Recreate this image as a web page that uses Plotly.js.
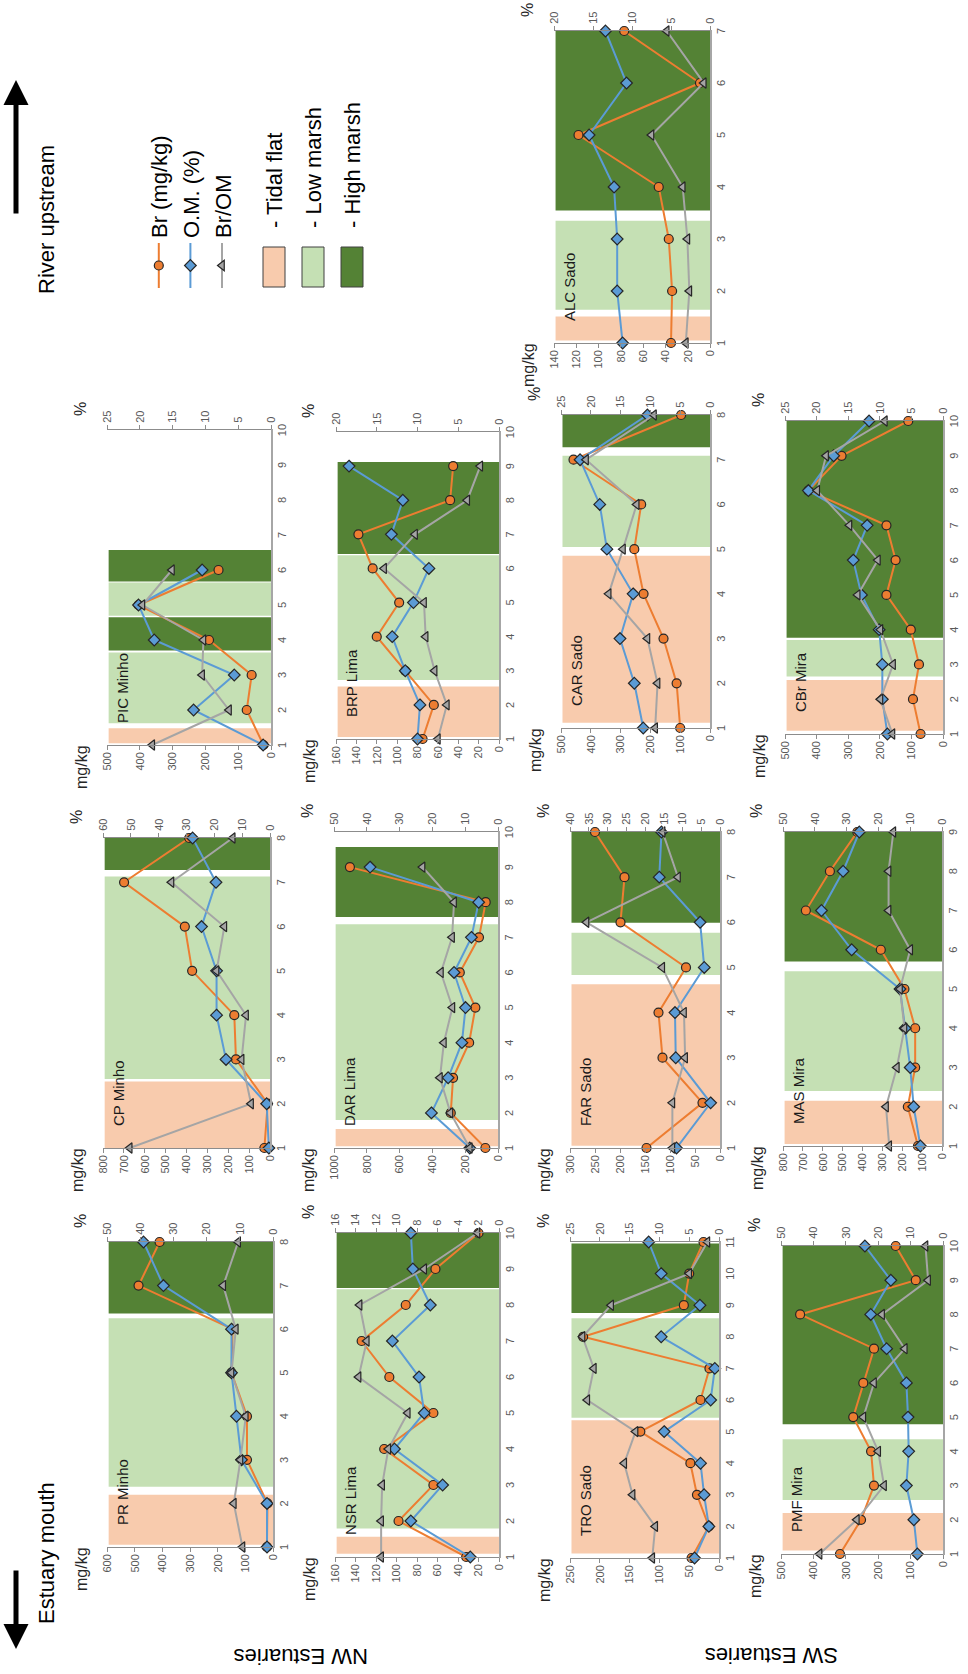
<!DOCTYPE html>
<html><head><meta charset="utf-8">
<script src="https://cdn.plot.ly/plotly-3.0.1.min.js"></script>
<style>
html,body{margin:0;padding:0;width:968px;height:1674px;overflow:hidden;background:#fff}
#wrap{position:absolute;left:0;top:0;width:1674px;height:968px;transform-origin:0 0;transform:translate(0px,1674px) rotate(-90deg);}
#chart{width:1674px;height:968px}
</style></head><body><div id="wrap"><div id="chart"></div></div>
<script>
// ---------- data ----------
const PR_Br   = [22, 20, 94, 94, 150, 146, 486, 410];
const PR_OM   = [1.8, 1.8, 9.5, 11, 12.5, 12.5, 33, 39];
const PR_BrOM = [9.2, 11.8, 9.8, 8.2, 12.5, 11.2, 15, 10.5];
const PR_zones = [['T',1.05,2.2],['L',2.38,6.25],['H',6.36,8]];

const CP_Br   = [27, 11, 163, 171, 373, 408, 699, 387];
const CP_OM   = [0.4, 1.2, 15.8, 19.2, 19.2, 24.6, 19.4, 27.8];
const CP_BrOM = [50.4, 6.8, 10.2, 8.6, 19.2, 16.4, 35.4, 13.4];
const CP_zones = [['T',1,2.5],['L',2.56,7.13],['H',7.28,8]];

const PIC_Br   = [23, 74, 59, 189, 404, 160];
const PIC_OM   = [1.2, 11.8, 5.6, 17.8, 20.2, 10.5];
const PIC_BrOM = [18.1, 6.4, 10.5, 10.3, 19.6, 15.1];
const PIC_zones = [['T',1.05,1.48],['L',1.62,3.64],['H',3.7,4.65],['L',4.69,5.64],['H',5.67,6.57]];

const NSR_Br   = [32, 98, 64, 112, 64, 107, 134, 91, 62, 20];
const NSR_OM   = [2.8, 8.6, 5.5, 10.2, 7.3, 7.8, 10.4, 6.7, 8.4, 8.6];
const NSR_BrOM = [11.5, 11.5, 11.4, 10.8, 8.9, 13.7, 12.9, 13.6, 7.3, 2.1];
const NSR_zones = [['T',1.09,1.56],['L',1.79,8.44],['H',8.47,10]];

const DAR_Br   = [77, 288, 274, 176, 138, 233, 116, 75, 903];
const DAR_OM   = [8.6, 20.3, 15.2, 11.0, 9.9, 13.4, 8.1, 5.9, 39.0];
const DAR_BrOM = [8.6, 14.5, 17.7, 16.5, 13.9, 17.4, 14.0, 13.4, 23.0];
const DAR_zones = [['T',1.05,1.54],['L',1.8,7.37],['H',7.58,9.57]];

const BRP_Br   = [75, 64, 92, 120, 98, 124, 138, 48, 45];
const BRP_OM   = [10.0, 9.7, 11.5, 13.1, 10.5, 8.6, 13.2, 11.8, 18.4];
const BRP_BrOM = [7.5, 6.4, 7.9, 9.0, 9.2, 14.1, 10.3, 3.9, 2.3];
const BRP_zones = [['T',1.06,2.54],['L',2.73,6.39],['H',6.42,9.12]];

const TRO_Br   = [46, 17, 37, 48, 132, 31, 16, 228, 59, 50, 26];
const TRO_OM   = [4.1, 1.7, 2.5, 3.1, 9.2, 1.4, 0.7, 9.7, 3.2, 9.7, 11.8];
const TRO_BrOM = [11.2, 10.7, 14.5, 15.9, 14.0, 22.1, 21.0, 22.9, 18.1, 5.0, 1.95];
const TRO_zones = [['T',1.14,5.36],['L',5.44,8.59],['H',8.75,10.95]];

const FAR_Br   = [147, 35, 115, 123, 68, 199, 191, 250];
const FAR_OM   = [11.6, 2.5, 11.8, 12.0, 4.2, 5.3, 16.2, 15.6];
const FAR_BrOM = [12.7, 12.7, 9.3, 9.6, 15.4, 35.6, 11.2, 15.3];
const FAR_zones = [['T',1.05,4.63],['L',4.83,5.77],['H',5.99,8]];

const CAR_Br   = [100, 112, 156, 223, 254, 231, 458, 97];
const CAR_OM   = [11.2, 12.7, 15.1, 12.9, 17.3, 18.5, 21.8, 10.5];
const CAR_BrOM = [9.2, 8.8, 10.5, 17.0, 14.6, 12.3, 20.8, 9.4];
const CAR_zones = [['T',1.12,4.85],['L',5.05,7.09],['H',7.28,8]];

const ALC_Br   = [35, 34, 37, 46, 118, 9, 77];
const ALC_OM   = [11.2, 11.9, 11.9, 12.3, 15.5, 10.7, 13.4];
const ALC_BrOM = [3.1, 2.65, 2.9, 3.5, 7.5, 0.8, 5.55];
const ALC_zones = [['T',1.05,1.51],['L',1.64,3.35],['H',3.55,7]];

const PMF_Br   = [318, 253, 213, 222, 277, 246, 213, 441, 84, 146];
const PMF_OM   = [7.9, 9.0, 11.3, 10.6, 10.8, 11.3, 17.4, 22.3, 16.1, 24.1];
const PMF_BrOM = [38.1, 26.6, 18.2, 20.0, 24.6, 21.3, 11.8, 18.8, 4.6, 5.4];
const PMF_zones = [['T',1.1,2.2],['L',2.58,4.35],['H',4.79,10]];

const MAS_Br   = [121, 172, 135, 135, 189, 308, 685, 564, 426];
const MAS_OM   = [6.8, 8.9, 10.0, 11.6, 13.2, 28.4, 37.9, 31.1, 26.0];
const MAS_BrOM = [16.6, 17.6, 14.2, 11.8, 13.2, 10.0, 16.8, 16.8, 15.3];
const MAS_zones = [['T',1.05,2.15],['L',2.4,5.45],['H',5.7,9]];

const CBr_Br   = [71, 95, 76, 102, 179, 150, 179, 426, 321, 110];
const CBr_OM   = [8.8, 9.6, 9.6, 10.1, 12.9, 14.2, 12.0, 21.3, 17.3, 11.7];
const CBr_BrOM = [8.0, 9.9, 7.9, 9.9, 13.5, 10.3, 14.8, 19.9, 18.5, 9.2];
const CBr_zones = [['T',1.09,2.55],['L',2.65,3.7],['H',3.77,10]];

const siteNames = ['PR Minho','CP Minho','PIC Minho','NSR Lima','DAR Lima','BRP Lima',
  'TRO Sado','FAR Sado','CAR Sado','ALC Sado','PMF Mira','MAS Mira','CBr Mira'];
const nPoints   = [8, 8, 10, 10, 10, 10, 11, 8, 8, 7, 10, 9, 10];
const brMax     = [600, 800, 500, 160, 1000, 160, 250, 300, 500, 140, 500, 800, 500];
const brStep    = [100, 100, 100, 20, 200, 20, 50, 50, 100, 20, 100, 100, 100];
const pctMax    = [50, 60, 25, 16, 50, 20, 25, 40, 25, 20, 50, 50, 25];
const pctStep   = [10, 10, 5, 2, 10, 5, 5, 5, 5, 5, 10, 10, 5];
const seriesNames = ['Br (mg/kg)', 'O.M. (%)', 'Br/OM'];
const zoneNames = ['- Tidal flat', '- Low marsh', '- High marsh'];

const brData   = [PR_Br, CP_Br, PIC_Br, NSR_Br, DAR_Br, BRP_Br, TRO_Br, FAR_Br, CAR_Br, ALC_Br, PMF_Br, MAS_Br, CBr_Br];
const omData   = [PR_OM, CP_OM, PIC_OM, NSR_OM, DAR_OM, BRP_OM, TRO_OM, FAR_OM, CAR_OM, ALC_OM, PMF_OM, MAS_OM, CBr_OM];
const ratioData= [PR_BrOM, CP_BrOM, PIC_BrOM, NSR_BrOM, DAR_BrOM, BRP_BrOM, TRO_BrOM, FAR_BrOM, CAR_BrOM, ALC_BrOM, PMF_BrOM, MAS_BrOM, CBr_BrOM];
const zoneData = [PR_zones, CP_zones, PIC_zones, NSR_zones, DAR_zones, BRP_zones, TRO_zones, FAR_zones, CAR_zones, ALC_zones, PMF_zones, MAS_zones, CBr_zones];

// ---------- layout geometry (unrotated frame, px) ----------
const W = 1674, H = 968;
const boxes = [
  [127,432,107,273],[526,836,103,270],[929,1244,107,271],
  [117,441,335,499],[526,842,334,498],[935,1242,336,499],
  [116,432,570,719],[526,842,570,720],[946,1259,561,710],[1331,1643,554,710],
  [120,428,781,943],[528,842,783,942],[940,1253,785,943]
];

const FONT = 'Liberation Sans, Arial, sans-serif';
const zoneColor = {T:'#F8CBAD', L:'#C5E0B4', H:'#548235'};
const sty = [
  {line:'#ED7D31', sym:'circle', size:9},
  {line:'#5B9BD5', sym:'diamond', size:9},
  {line:'#A5A5A5', sym:'triangle-up', size:9}
];
const tickFont = {family:FONT, size:11, color:'#595959'};
const axCol = '#8C8C8C';

function sfx(n){ return n === 1 ? '' : String(n); }

const traces = [], shapes = [], annotations = [];
const layout = {
  width: W, height: H, margin:{l:0,r:0,t:0,b:0}, paper_bgcolor:'#fff', plot_bgcolor:'rgba(0,0,0,0)',
  font:{family:FONT, color:'#000'}, showlegend:true,
  legend:{x:1381/W, y:1-138/H, xanchor:'left', yanchor:'top', font:{family:FONT,size:22,color:'#000'},
          bgcolor:'rgba(0,0,0,0)', borderwidth:0, itemwidth:45, tracegroupgap:0}
};

siteNames.forEach((name, i) => {
  const xn = i+1, yl = 2*i+1, yr = 2*i+2;
  const xid = 'x'+sfx(xn), ylid = 'y'+sfx(yl), yrid = 'y'+sfx(yr);
  const [u0,u1,v0,v1] = boxes[i];
  const n = nPoints[i];
  const cats = Array.from({length:n}, (_,k)=>k+1);
  layout['xaxis'+sfx(xn)] = {domain:[u0/W, u1/W], anchor:ylid, range:[1,n], tickvals:cats,
    showline:true, linecolor:'#A6A6A6', linewidth:1.6, ticks:'', showgrid:false, zeroline:false,
    tickfont:tickFont, fixedrange:true};
  layout['yaxis'+sfx(yl)] = {domain:[1-v1/H, 1-v0/H], anchor:xid, range:[0,brMax[i]], dtick:brStep[i],
    showline:true, linecolor:axCol, linewidth:1, ticks:'outside', ticklen:4, tickcolor:axCol,
    showgrid:false, zeroline:false, tickfont:tickFont, fixedrange:true};
  layout['yaxis'+sfx(yr)] = {overlaying:ylid, side:'right', anchor:xid, range:[0,pctMax[i]], dtick:pctStep[i],
    showline:true, linecolor:axCol, linewidth:1, ticks:'outside', ticklen:4, tickcolor:axCol,
    showgrid:false, zeroline:false, tickfont:tickFont, fixedrange:true};

  const sets = [[brData[i], ylid], [omData[i], yrid], [ratioData[i], yrid]];
  sets.forEach(([vals, yid], s) => {
    traces.push({
      type:'scatter', mode:'lines+markers', x:cats.slice(0, vals.length), y:vals,
      xaxis:xid, yaxis:yid, name:seriesNames[s], legendgroup:'s'+s, showlegend:i===0,
      cliponaxis:false,
      line:{color:sty[s].line, width:2},
      marker:{symbol:sty[s].sym, size:sty[s].size, color:sty[s].line, line:{color:'#262626', width:1.2}}
    });
  });

  zoneData[i].forEach(z => {
    shapes.push({type:'rect', xref:xid, yref:ylid+' domain', x0:z[1], x1:z[2], y0:0, y1:0.99,
      fillcolor:zoneColor[z[0]], line:{width:0}, layer:'below'});
  });

  annotations.push({xref:xid+' domain', yref:ylid+' domain', x:0, y:1, xanchor:'left', yanchor:'top',
    xshift:20, yshift:-5, text:name, showarrow:false, font:{family:FONT, size:15, color:'#1a1a1a'}});
  annotations.push({xref:xid+' domain', yref:ylid+' domain', x:0, y:1, xanchor:'right', yanchor:'middle',
    xshift:2, yshift:26, text:'mg/kg', showarrow:false, font:{family:FONT, size:16, color:'#262626'}});
  annotations.push({xref:xid+' domain', yref:ylid+' domain', x:1, y:1, xanchor:'left', yanchor:'middle',
    xshift:12, yshift:27, text:'%', showarrow:false, font:{family:FONT, size:16, color:'#262626'}});
});

// row labels
annotations.push({xref:'paper', yref:'paper', x:18/W, y:1-301/H, xanchor:'center', yanchor:'middle',
  text:'NW Estuaries', textangle:-90, showarrow:false, font:{family:FONT, size:22, color:'#000'}});
annotations.push({xref:'paper', yref:'paper', x:18/W, y:1-772/H, xanchor:'center', yanchor:'middle',
  text:'SW Estuaries', textangle:-90, showarrow:false, font:{family:FONT, size:22, color:'#000'}});
// direction labels and arrows
annotations.push({xref:'paper', yref:'paper', x:121/W, y:1-46/H, xanchor:'center', yanchor:'middle',
  text:'Estuary mouth', showarrow:false, font:{family:FONT, size:22, color:'#000'}});
annotations.push({xref:'paper', yref:'paper', x:1454/W, y:1-46/H, xanchor:'center', yanchor:'middle',
  text:'River upstream', showarrow:false, font:{family:FONT, size:22, color:'#000'}});
annotations.push({xref:'paper', yref:'paper', x:25/W, y:1-16/H, ax:80, ay:0, text:'', showarrow:true,
  arrowhead:2, arrowsize:1, arrowwidth:5, arrowcolor:'#000'});
annotations.push({xref:'paper', yref:'paper', x:1594/W, y:1-16/H, ax:-135, ay:0, text:'', showarrow:true,
  arrowhead:2, arrowsize:1, arrowwidth:5, arrowcolor:'#000'});

// zone legend
const zKeys = ['T','L','H'];
const zoneV = [274, 313, 352];
zKeys.forEach((k, j) => {
  shapes.push({type:'rect', xref:'paper', yref:'paper', x0:1387/W, x1:1427/W,
    y0:1-(zoneV[j]+11)/H, y1:1-(zoneV[j]-11)/H, fillcolor:zoneColor[k], line:{color:'#404040', width:1}});
  annotations.push({xref:'paper', yref:'paper', x:1444/W, y:1-zoneV[j]/H, xanchor:'left', yanchor:'middle',
    text:zoneNames[j], showarrow:false, font:{family:FONT, size:22, color:'#000'}});
});

layout.shapes = shapes;
layout.annotations = annotations;
Plotly.newPlot('chart', traces, layout, {staticPlot:true, displayModeBar:false});
</script></body></html>
